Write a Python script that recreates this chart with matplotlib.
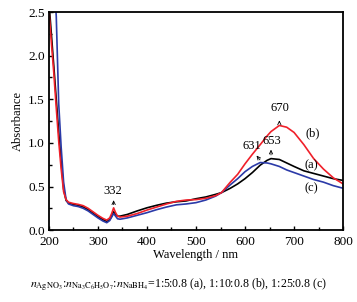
import numpy as np
import matplotlib
matplotlib.use("Agg")
import matplotlib.pyplot as plt
from matplotlib.ticker import MultipleLocator

plt.rcParams["font.family"] = ["Liberation Serif", "DejaVu Serif"]
plt.rcParams["mathtext.fontset"] = "stix"

wavelength = [200, 205, 210, 215, 220, 225, 230, 235, 240, 250, 260, 270, 280, 290,
              300, 310, 318, 324, 328, 332, 336, 340, 345, 360, 380, 400, 420, 440,
              460, 480, 500, 520, 540, 552, 570, 585, 600, 615, 631, 645, 653, 670,
              685, 700, 720, 740, 760, 780, 800]

abs_a = [2.62, 2.25, 1.88, 1.5, 1.12, 0.78, 0.47, 0.34, 0.31, 0.295, 0.285, 0.265, 0.235, 0.195,
         0.155, 0.12, 0.10, 0.12, 0.16, 0.21, 0.18, 0.16, 0.16, 0.18, 0.22, 0.256, 0.285, 0.31,
         0.325, 0.335, 0.36, 0.38, 0.41, 0.43, 0.48, 0.53, 0.59, 0.66, 0.745, 0.80, 0.82, 0.81,
         0.77, 0.73, 0.68, 0.65, 0.62, 0.59, 0.57]

abs_b = [2.52, 2.15, 1.8, 1.4, 1.02, 0.7, 0.44, 0.35, 0.32, 0.305, 0.295, 0.28, 0.25, 0.21,
         0.17, 0.135, 0.115, 0.14, 0.19, 0.255, 0.2, 0.16, 0.15, 0.16, 0.19, 0.23, 0.265, 0.30,
         0.33, 0.345, 0.35, 0.365, 0.395, 0.43, 0.55, 0.64, 0.76, 0.87, 0.98, 1.08, 1.13, 1.20,
         1.18, 1.12, 0.98, 0.82, 0.70, 0.60, 0.53]

abs_c = [3.6, 3.2, 2.9, 2.45, 1.45, 0.95, 0.55, 0.35, 0.30, 0.28, 0.27, 0.25, 0.22, 0.18,
         0.14, 0.105, 0.085, 0.11, 0.15, 0.19, 0.16, 0.13, 0.125, 0.14, 0.17, 0.20, 0.235, 0.265,
         0.29, 0.30, 0.315, 0.345, 0.39, 0.43, 0.52, 0.59, 0.67, 0.73, 0.775, 0.77, 0.76, 0.73,
         0.69, 0.66, 0.62, 0.58, 0.55, 0.51, 0.48]

fig = plt.figure(figsize=(3.57, 3.02), dpi=100)
ax = fig.add_axes([0.137, 0.238, 0.824, 0.722])

ax.plot(wavelength, abs_a, color="black", lw=1.2)
ax.plot(wavelength, abs_c, color="#2b3aa8", lw=1.2)
ax.plot(wavelength, abs_b, color="#f0202a", lw=1.2)

ax.set_xlim(200, 800)
ax.set_ylim(0, 2.5)
ax.xaxis.set_major_locator(MultipleLocator(100))
ax.xaxis.set_minor_locator(MultipleLocator(50))
ax.yaxis.set_major_locator(MultipleLocator(0.5))
ax.yaxis.set_minor_locator(MultipleLocator(0.25))
ax.yaxis.set_major_formatter(matplotlib.ticker.FormatStrFormatter("%.1f"))
ax.tick_params(which="both", direction="in", top=False, right=False, labelsize=9.5)
ax.tick_params(axis="x", pad=4)
ax.tick_params(axis="y", pad=3)
ax.tick_params(which="major", length=3, width=1)
ax.tick_params(which="minor", length=2, width=1)
for s in ax.spines.values():
    s.set_linewidth(1.3)

ax.set_xlabel("Wavelength / nm", fontsize=9, labelpad=1)
ax.set_ylabel("Absorbance", fontsize=9, labelpad=3)

arrow = dict(arrowstyle="->,head_length=0.25,head_width=0.12", color="black", lw=0.6)
ax.annotate("", xy=(670, 1.29), xytext=(670, 1.205), arrowprops=arrow)
ax.text(671, 1.40, "670", ha="center", va="center", fontsize=9)
ax.annotate("", xy=(653, 0.955), xytext=(653, 0.83), arrowprops=arrow)
ax.text(655, 1.02, "653", ha="center", va="center", fontsize=9)
ax.annotate("", xy=(620, 0.88), xytext=(634, 0.78), arrowprops=arrow)
ax.text(613, 0.97, "631", ha="center", va="center", fontsize=9)
ax.annotate("", xy=(332, 0.375), xytext=(332, 0.26), arrowprops=arrow)
ax.text(330, 0.45, "332", ha="center", va="center", fontsize=9)

ax.text(736, 0.745, "(a)", ha="center", va="center", fontsize=9)
ax.text(737, 1.11, "(b)", ha="center", va="center", fontsize=9)
ax.text(736, 0.48, "(c)", ha="center", va="center", fontsize=9)

fig.text(0.5, 0.056,
         r"$n_{\mathrm{AgNO_3}}$:$n_{\mathrm{Na_3C_6H_5O_7}}$:$n_{\mathrm{NaBH_4}}$"
         "=1:5:0.8 (a), 1:10:0.8 (b), 1:25:0.8 (c)",
         ha="center", va="center", fontsize=8.6)

fig.savefig("out.png", dpi=100)
